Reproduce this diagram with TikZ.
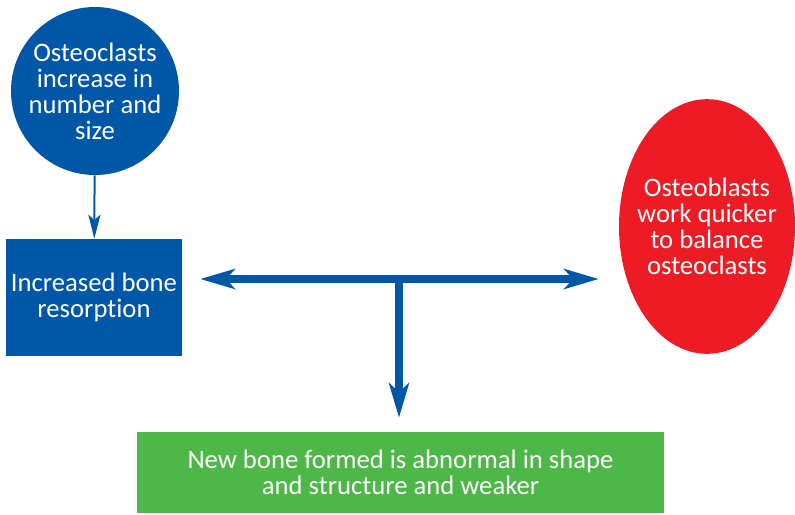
\documentclass[tikz,border=0pt]{standalone}
\usepackage{fontspec}
\setmainfont[Ligatures=NoCommon]{Carlito}
\usetikzlibrary{arrows.meta,shapes.geometric}
\definecolor{boneblue}{RGB}{0,87,168}
\definecolor{bonered}{RGB}{237,28,36}
\definecolor{bonegreen}{RGB}{77,184,72}
\tikzset{bigtip/.tip={Stealth[length=26pt,width=15pt,inset=7pt]}}

\begin{document}
\begin{tikzpicture}[x=0.75pt, y=-0.75pt,
		blurb/.style={text=white, align=center, inner sep=0pt, font=\fontsize{20}{19.5}\selectfont},
		bigline/.style={boneblue, line width=6pt},
		]
		\useasboundingbox (0,0) rectangle (795,514);
		\node[circle, fill=boneblue, inner sep=0pt, minimum size=126pt, label={[blurb]center:{Osteoclasts\\increase in\\number and\\size}}] (clasts) at (95,91){};
		\node[blurb, fill=boneblue, minimum width=132pt, minimum height=87.75pt] (resorb) at (94,297.5){Increased bone\\resorption};
		\node[ellipse, fill=bonered, inner sep=0pt, minimum width=132pt, minimum height=191pt, label={[blurb]center:{Osteoblasts\\work quicker\\to balance\\osteoclasts}}] (blasts) at (707,226.5){};
		\node[blurb, fill=bonegreen, minimum width=395pt, minimum height=60.75pt] (weaker) at (400.5,472.5){New bone formed is abnormal in shape\\and structure and weaker};
		\coordinate (junction) at (399,279);
		\draw[boneblue, line width=1.5pt, -{Stealth[length=18pt,width=9pt,inset=4pt]}] (clasts) -- (resorb);
		\draw[bigline, bigtip-bigtip, shorten <=13.5pt, shorten >=15pt] (resorb.east |- junction) -- (blasts.west |- junction);
		\draw[bigline, -bigtip, shorten >=10.5pt] (junction) -- (junction |- weaker.north);
		\end{tikzpicture}
\end{document}
